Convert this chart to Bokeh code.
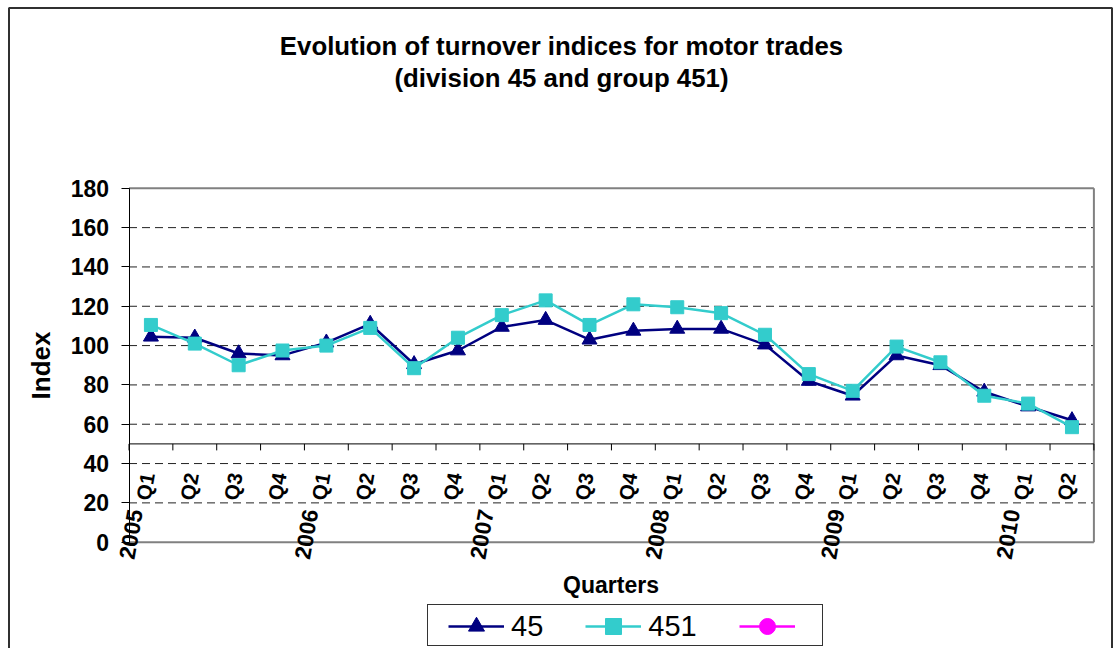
from bokeh.plotting import figure
from bokeh.models import (Range1d, ColumnDataSource, LabelSet, Label,
                          Legend, LegendItem, FixedTicker, BoxAnnotation)
from bokeh.core.properties import value
from bokeh.embed import file_html
from bokeh.resources import INLINE

# ---------------- data ----------------
categories = ["2005 Q1", "2005 Q2", "2005 Q3", "2005 Q4",
              "2006 Q1", "2006 Q2", "2006 Q3", "2006 Q4",
              "2007 Q1", "2007 Q2", "2007 Q3", "2007 Q4",
              "2008 Q1", "2008 Q2", "2008 Q3", "2008 Q4",
              "2009 Q1", "2009 Q2", "2009 Q3", "2009 Q4",
              "2010 Q1", "2010 Q2"]
series_45 = [104.5, 104, 96, 95, 101.5, 111, 90.5, 97.5, 109.5, 113, 103, 107.5,
             108.5, 108.5, 100.5, 82, 74.5, 95, 90, 76.5, 69, 62]
series_451 = [110.5, 101, 90, 97.5, 100, 109, 88.5, 104, 115.5, 123, 110.5, 121,
              119.5, 116.5, 105.5, 85.5, 77, 99.5, 91.5, 74.5, 70.5, 58.5]
series_third = [float("nan")] * len(categories)   # empty third series (legend only)
y_ticks = [0, 20, 40, 60, 80, 100, 120, 140, 160, 180]
y_min, y_max = 0, 180
axis_cross = 50

title_lines = ["Evolution of turnover indices for motor trades", "(division 45 and group 451)"]
x_title = "Quarters"
y_title = "Index"
legend_labels = ["45", "451", ""]

FONT = "Liberation Sans"
W, H = 1115, 648

n = len(categories)
xs = [i + 0.5 for i in range(n)]
quarters = [c.split()[1] for c in categories]
years = [c.split()[0] if c.endswith("Q1") else "" for c in categories]

# plot area: x 128.5..1093.4 px, y 541.7 (0) .. 187.8 (180)
px_x = (1093.4 - 128.5) / n
px_y = (541.7 - 187.8) / (y_max - y_min)
x_range = Range1d(-128.5 / px_x, (W - 128.5) / px_x)
y_range = Range1d(-(H - 541.7) / px_y, 541.7 / px_y)

p = figure(width=W, height=H, x_range=x_range, y_range=y_range,
           output_backend="svg", toolbar_location=None,
           min_border_left=0, min_border_right=0, min_border_top=0, min_border_bottom=0)
p.title.visible = False
p.background_fill_color = "white"
p.border_fill_color = "white"
p.outline_line_color = None
p.xaxis.visible = False
p.xgrid.visible = False
p.ygrid.visible = False

yax = p.yaxis[0]
yax.fixed_location = 0
yax.bounds = (y_min, y_max)
yax.ticker = FixedTicker(ticks=y_ticks)
yax.minor_tick_line_color = None
yax.major_tick_out = 8
yax.major_tick_in = 0
yax.axis_line_color = "black"
yax.major_tick_line_color = "black"
yax.major_label_text_font = FONT
yax.major_label_text_font_style = "bold"
yax.major_label_text_font_size = "23px"
yax.major_label_text_color = "black"
yax.major_label_standoff = 12
yax.axis_label = y_title
yax.axis_label_text_font = FONT
yax.axis_label_text_font_style = "bold"
yax.axis_label_text_font_size = "26px"
yax.axis_label_text_color = "black"
yax.axis_label_standoff = 12

# dashed grid lines inside the plot area
grid_y = [t for t in y_ticks if y_min < t < y_max]
p.segment(x0=[0] * len(grid_y), x1=[n] * len(grid_y), y0=grid_y, y1=grid_y,
          line_color="#222222", line_dash="8 5", line_width=1)

# plot-area border (top, right, bottom)
p.multi_line(xs=[[0, n], [n, n], [0, n]], ys=[[y_max, y_max], [y_min, y_max], [y_min, y_min]],
             line_color="#808080", line_width=2)

# category axis crossing at 50, ticks between categories
p.segment(x0=0, x1=n, y0=axis_cross, y1=axis_cross, line_color="black", line_width=1)
bounds_x = list(range(n + 1))
p.segment(x0=bounds_x, x1=bounds_x, y0=[axis_cross] * (n + 1),
          y1=[axis_cross - 6.5 / px_y] * (n + 1), line_color="black", line_width=1)

src = ColumnDataSource(dict(x=xs, q=quarters, yr=years, s45=series_45,
                            s451=series_451, s3=series_third))
p.add_layout(LabelSet(x="x", y=axis_cross, text="q", source=src,
                      angle=80, angle_units="deg", x_offset=-8, y_offset=-56,
                      text_align="left", text_baseline="middle",
                      text_font=value(FONT), text_font_style="bold",
                      text_font_size="20.5px", text_color="black"))
p.add_layout(LabelSet(x="x", y=axis_cross, text="yr", source=src,
                      angle=80, angle_units="deg", x_offset=-24, y_offset=-115,
                      text_align="left", text_baseline="middle",
                      text_font=value(FONT), text_font_style="bold",
                      text_font_size="22.5px", text_color="black"))

# series
l45 = p.line("x", "s45", source=src, line_color="#000080", line_width=2.5)
m45 = p.scatter("x", "s45", source=src, marker="triangle", size=15,
                fill_color="#000080", line_color="#000080")
l451 = p.line("x", "s451", source=src, line_color="#33CCCC", line_width=2.5)
m451 = p.scatter("x", "s451", source=src, marker="square", size=13,
                 fill_color="#33CCCC", line_color="#33CCCC")
l3 = p.line("x", "s3", source=src, line_color="#FF00FF", line_width=2.5)
m3 = p.scatter("x", "s3", source=src, marker="circle", size=13,
               fill_color="#FF00FF", line_color="#FF00FF")

# legend box
box_r = p.line([], [], line_alpha=0)
box_legend = Legend(items=[LegendItem(label=value(""), renderers=[box_r])],
                    location=(427, 2), orientation="horizontal",
                    padding=0, spacing=0, margin=0, label_standoff=0,
                    label_width=0, label_height=0, glyph_width=394, glyph_height=40,
                    label_text_font_size="1px",
                    border_line_color="#333333", border_line_width=1, border_line_alpha=1,
                    background_fill_color="white", background_fill_alpha=1)
p.add_layout(box_legend)

legend = Legend(items=[LegendItem(label=value(legend_labels[0]), renderers=[l45, m45]),
                       LegendItem(label=value(legend_labels[1]), renderers=[l451, m451]),
                       LegendItem(label=value(legend_labels[2]), renderers=[l3, m3])],
                location=(448, 2), orientation="horizontal",
                padding=0, spacing=42, margin=0, label_standoff=7,
                glyph_width=56, glyph_height=40, label_width=0, label_height=30,
                label_text_font=FONT, label_text_font_size="29px",
                label_text_color="black",
                border_line_alpha=0, background_fill_alpha=0)
p.add_layout(legend)

# titles
for txt, yy in zip(title_lines, [H - 45, H - 77]):
    p.add_layout(Label(x=561, y=yy, x_units="screen", y_units="screen", text=txt,
                       text_align="center", text_baseline="middle", text_font=FONT,
                       text_font_style="bold", text_font_size="25.8px", text_color="black"))
p.add_layout(Label(x=610.5, y=H - 584, x_units="screen", y_units="screen", text=x_title,
                   text_align="center", text_baseline="middle", text_font=FONT,
                   text_font_style="bold", text_font_size="23px", text_color="black"))

# outer chart border
p.add_layout(BoxAnnotation(left=8.5, right=1111.5, top=H - 7.5, bottom=-20,
                           left_units="screen", right_units="screen",
                           top_units="screen", bottom_units="screen",
                           fill_alpha=0, line_color="#303030", line_alpha=1, line_width=2))

open("out.html", "w").write(file_html(p, INLINE))
